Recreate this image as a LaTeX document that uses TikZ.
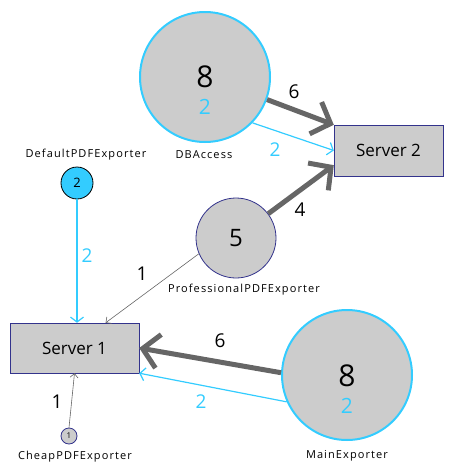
\documentclass[tikz,border=0pt]{standalone}
\usepackage{fontspec}
\setmainfont{Open Sans}
\newfontfamily\captionfont[LetterSpace=10]{Open Sans}
\usetikzlibrary{arrows.meta}
\definecolor{linkblue}{RGB}{51,204,255}
\definecolor{fillgray}{RGB}{204,204,204}
\definecolor{edgegray}{RGB}{102,102,102}
\definecolor{borderblue}{RGB}{51,51,140}

\begin{document}
\begin{tikzpicture}[x=1pt,y=-1pt,
  comp/.style={circle,fill=fillgray,inner sep=0pt},
  server/.style={draw=borderblue,fill=fillgray,inner sep=0pt,font=\fontsize{17}{19}\selectfont},
  caption/.style={font=\captionfont\fontsize{11}{13}\selectfont},
  weight/.style={font=\fontsize{19}{21}\selectfont},
  heavy/.style={draw=edgegray,line width=5pt,-{Straight Barb[length=16pt,width=34pt]}},
  light/.style={draw=edgegray,line width=0.6pt,-{Straight Barb[length=4pt,width=8pt]}},
  cyanlink/.style={draw=linkblue,line width=1.2pt,-{Straight Barb[length=5pt,width=13pt]}}]
\useasboundingbox (0,0) rectangle (454,464);
\footnotesize
% servers
\node[server,minimum width=109pt,minimum height=51pt] (srv2) at (388.5,150.5) {Server 2};
\node[server,minimum width=129pt,minimum height=50pt] (srv1) at (74.5,348) {Server 1};
% components
\node[comp,draw=linkblue,line width=2pt,minimum size=130pt] (db) at (205,77) {};
\node[font=\fontsize{30}{32}\selectfont] (dbload) at (205,77) {8};
\node[font=\fontsize{21}{23}\selectfont,text=linkblue] (dbcyan) at (205,107) {2};
\node[caption] (dbname) at (204,155) {DBAccess};
\node[comp,draw=linkblue,line width=2pt,minimum size=130pt] (main) at (347,375) {};
\node[font=\fontsize{30}{32}\selectfont] (mainload) at (347,376) {8};
\node[font=\fontsize{21}{23}\selectfont,text=linkblue] (maincyan) at (347,406) {2};
\node[caption] (mainname) at (347,456) {MainExporter};
\node[comp,draw=borderblue,line width=0.8pt,minimum size=80pt,font=\fontsize{24}{26}\selectfont] (prof) at (236,238) {5};
\node[caption] (profname) at (244,290) {ProfessionalPDFExporter};
\node[circle,fill=linkblue,draw=black,line width=0.8pt,inner sep=0pt,minimum size=32pt,font=\fontsize{13}{15}\selectfont] (dflt) at (77,183) {2};
\node[caption] (dfltname) at (86,155) {DefaultPDFExporter};
\node[comp,draw=borderblue,line width=0.8pt,minimum size=16pt,font=\fontsize{8}{9}\selectfont] (cheap) at (69,436) {1};
\node[caption] (cheapname) at (75,457) {CheapPDFExporter};
% links to server 2
\draw[heavy] (db.-20) -- (srv2.north west);
\draw[cyanlink] (db.-44) -- (srv2.west);
\draw[heavy] (prof.37) -- (srv2.195);
% links to server 1
\draw[cyanlink] (dflt.south) -- (dflt |- srv1.north);
\draw[light] (prof.203) -- (srv1.39);
\draw[heavy] (main.178) -- (srv1.east);
\draw[cyanlink] (main.204) -- (srv1.south east);
\draw[light] (cheap.north) -- (srv1.south);
% weights
\node[weight] (w1) at (294,92) {6};
\node[weight,text=linkblue] (w2) at (275,150) {2};
\node[weight] (w3) at (300,210) {4};
\node[weight,text=linkblue] (w4) at (87,256) {2};
\node[weight] (w5) at (142,274) {1};
\node[weight] (w6) at (220,341) {6};
\node[weight,text=linkblue] (w7) at (201,402) {2};
\node[weight] (w8) at (57,402) {1};
\end{tikzpicture}
\end{document}
